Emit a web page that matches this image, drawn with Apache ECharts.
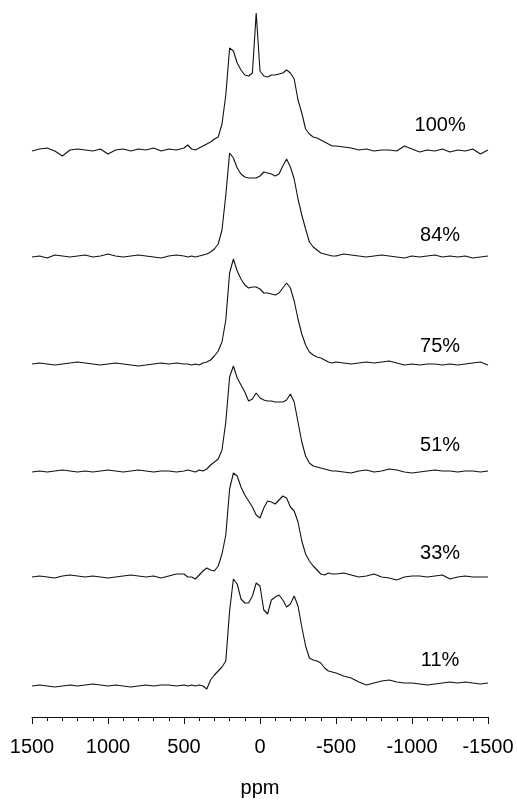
<!DOCTYPE html>
<html>
<head>
<meta charset="utf-8">
<script src="https://cdn.jsdelivr.net/npm/echarts@6/dist/echarts.min.js"></script>
<style>
html,body{margin:0;padding:0;background:#fff;}
#chart{width:517px;height:801px;}
</style>
</head>
<body>
<div id="chart"></div>
<script>
// chemical shift sampling points (ppm)
const ppm = [1500,1450,1400,1350,1300,1250,1200,1150,1100,1050,1000,950,900,850,800,750,700,650,600,550,500,
  475,450,425,400,375,350,325,300,275,250,225,200,175,150,125,100,75,50,25,0,-25,-50,-75,-100,-125,-150,-175,-200,-225,-250,-275,-300,-325,-350,-375,-400,-425,-450,-475,
  -500,-550,-600,-650,-700,-750,-800,-850,-900,-950,-1000,-1050,-1100,-1150,-1200,-1250,-1300,-1350,-1400,-1450,-1500];

// spectra intensities (arbitrary units, baseline = 0)
const s100 = [0,2,3,0,-5,1,2,1,0,2,-3,1,2,0,2,1,3,0,2,1,3,
  6,2,1,3,5,7,9,12,14,27,56,103,100,88,81,76,75,78,138,80,75,74,76,76,77,78,81,78,72,51,38,22,17,14,13,11,9,7,5,
  5,4,3,1,2,0,1,1,0,5,2,-1,1,0,2,-1,1,0,2,-3,1];
const s84 = [0,1,-1,2,1,0,1,2,0,1,3,1,0,1,2,1,0,-1,1,2,1,
  0,1,0,1,2,3,5,8,13,27,62,104,99,89,83,80,79,79,79,81,85,84,83,81,83,91,98,90,78,58,42,28,15,10,7,4,3,2,1,
  1,3,2,1,0,1,2,1,0,-1,1,0,1,2,0,1,0,1,-1,0,1];
const s75 = [1,2,1,0,1,2,3,2,1,0,1,2,1,0,-1,0,1,2,1,2,1,
  1,0,1,0,2,3,5,9,14,23,45,92,106,94,86,80,77,78,78,76,72,72,71,70,72,77,82,77,64,46,31,20,13,10,8,7,5,3,2,
  3,2,1,2,3,2,3,4,2,0,1,0,1,1,0,1,0,1,2,3,0];
const s51 = [0,1,0,1,2,1,0,1,0,1,2,1,0,1,2,1,0,1,1,0,1,
  2,1,0,2,1,3,7,10,13,22,50,95,106,94,87,80,71,73,79,74,72,71,71,70,70,70,72,78,70,50,30,16,9,6,5,4,3,2,1,
  1,0,-1,1,2,0,1,3,2,0,-1,0,1,2,1,1,0,1,1,0,1];
const s33 = [0,1,0,-1,1,2,1,0,1,0,-1,0,1,2,1,0,1,-1,1,3,3,
  0,0,-2,2,6,9,7,6,11,23,42,88,104,101,90,82,76,70,62,59,69,76,75,73,77,81,79,70,66,55,36,23,16,11,7,3,2,4,3,
  3,4,2,0,1,3,0,-1,-3,0,1,1,0,1,2,-2,0,1,0,0,0];
const s11 = [0,1,0,-1,0,1,0,1,2,1,0,1,0,-1,0,1,0,1,1,0,1,
  0,1,0,1,0,-3,6,11,15,19,25,75,107,102,87,83,83,90,103,100,76,72,86,89,91,86,79,82,90,80,59,40,28,26,25,23,18,15,14,
  13,10,8,4,1,3,5,6,4,3,3,2,1,2,3,4,3,4,3,2,3];

const spectra = [s100, s84, s75, s51, s33, s11];
const sampleNames = ['100%', '84%', '75%', '51%', '33%', '11%'];
// vertical stacking offset of each spectrum's baseline
const offsets = [566, 460, 352, 245, 140, 31];
// label placement (ppm) and height above each baseline
const labelPpm = -1185;
const labelHeights = [26, 22, 19, 27, 24, 26];

const xTicks = {min: -1500, max: 1500, interval: 500};

const FONT = '"Liberation Sans", Arial, Helvetica, sans-serif';
const chart = echarts.init(document.getElementById('chart'), null, {renderer: 'canvas'});

const series = spectra.map((vals, k) => ({
  type: 'line',
  name: sampleNames[k],
  data: ppm.map((p, i) => [p, offsets[k] + vals[i]]),
  showSymbol: false,
  symbol: 'none',
  silent: true,
  lineStyle: {color: '#111', width: 1.1},
  z: 2
}));

series.push({
  type: 'scatter',
  symbolSize: 0,
  silent: true,
  itemStyle: {color: '#000', opacity: 1},
  data: sampleNames.map((n, k) => ({name: n, value: [labelPpm, offsets[k] + labelHeights[k]]})),
  label: {
    show: true,
    position: 'inside',
    formatter: p => p.name,
    color: '#000',
    textBorderWidth: 0,
    textBorderColor: 'transparent',
    fontSize: 20,
    fontFamily: FONT
  }
});

chart.setOption({
  animation: false,
  backgroundColor: '#fff',
  grid: {left: 32, right: 29, top: 0, bottom: 84, containLabel: false, outerBoundsMode: 'none'},
  xAxis: {
    type: 'value',
    inverse: true,
    min: xTicks.min,
    max: xTicks.max,
    interval: xTicks.interval,
    name: 'ppm',
    nameLocation: 'middle',
    nameGap: 61,
    nameTextStyle: {color: '#000', fontSize: 20, fontFamily: FONT},
    axisLine: {show: true, onZero: false, lineStyle: {color: '#111', width: 1}},
    axisTick: {show: true, inside: false, length: 7, lineStyle: {color: '#111', width: 1}},
    minorTick: {show: true, splitNumber: 5, length: 4, lineStyle: {color: '#111', width: 1}},
    splitLine: {show: false},
    axisLabel: {color: '#000', fontSize: 20, fontFamily: FONT, margin: 20, formatter: v => String(v)}
  },
  yAxis: {
    type: 'value',
    min: 0,
    max: 717,
    show: false,
    splitLine: {show: false}
  },
  series: series
});
</script>
</body>
</html>
